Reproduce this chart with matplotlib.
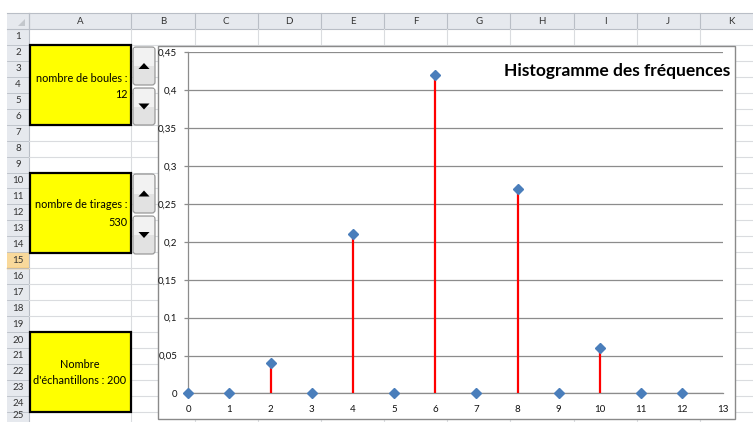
import matplotlib.pyplot as plt
from matplotlib.patches import Rectangle, FancyBboxPatch, Polygon

plt.rcParams['font.family'] = ['Lato', 'DejaVu Sans']

# tirage results: value drawn -> observed frequency
valeurs = list(range(13))
frequences = [0, 0, 0.04, 0, 0.21, 0, 0.42, 0, 0.27, 0, 0.06, 0, 0]
y_ticks = [0, 0.05, 0.1, 0.15, 0.2, 0.25, 0.3, 0.35, 0.4, 0.45]
y_labels = ['0', '0,05', '0,1', '0,15', '0,2', '0,25', '0,3', '0,35', '0,4', '0,45']
x_ticks = list(range(14))

colonnes = ['A', 'B', 'C', 'D', 'E', 'F', 'G', 'H', 'I', 'J', 'K']
lignes = list(range(1, 26))
nb_boules = 12
nb_tirages = 530
nb_echantillons = 200

W, H = 753, 422
fig = plt.figure(figsize=(W / 100, H / 100), dpi=100)
bg = fig.add_axes([0, 0, 1, 1])
bg.set_xlim(0, W)
bg.set_ylim(H, 0)
bg.axis('off')

# sheet geometry in pixels
head_top, head_bot = 13, 29
row_h = 15.95
col_x = [29, 131.5] + [131.5 + 63.15 * i for i in range(1, 10)] + [763]
left_x = 7
grid_c = '#dadcdf'
head_c = '#e6e9ee'
head_line = '#b9bec6'
txt_c = '#333333'

# column headers
bg.add_patch(Rectangle((left_x, head_top), W - left_x, head_bot - head_top,
                       facecolor=head_c, edgecolor='none'))
bg.plot([left_x, W], [head_top, head_top], color=head_line, lw=0.8)
bg.plot([left_x, W], [head_bot, head_bot], color=head_line, lw=0.8)
for i, c in enumerate(colonnes):
    x0, x1 = col_x[i], col_x[i + 1]
    bg.plot([x0, x0], [head_top, head_bot], color=head_line, lw=0.8)
    bg.text((x0 + x1) / 2, 21.5, c, ha='center', va='center',
            fontsize=7, color=txt_c)

# row headers
bg.add_patch(Rectangle((left_x, head_bot), col_x[0] - left_x, H - head_bot,
                       facecolor=head_c, edgecolor='none'))
bg.plot([col_x[0], col_x[0]], [head_top, H], color=head_line, lw=0.8)
bg.add_patch(Polygon([[25, 19], [25, 26], [18, 26]], closed=True,
                     facecolor='#c3c7cc', edgecolor='none'))
for r in lignes:
    y0 = head_bot + (r - 1) * row_h
    if r == 15:
        bg.add_patch(Rectangle((left_x, y0), col_x[0] - left_x, row_h,
                               facecolor='#f9d99b', edgecolor='none'))
        bg.plot([left_x, col_x[0]], [y0 + row_h, y0 + row_h], color='#f2b54a', lw=1)
    bg.plot([left_x, col_x[0]], [y0 + row_h, y0 + row_h], color=head_line, lw=0.6)
    bg.text(18, min(y0 + row_h / 2, H - 6), str(r), ha='center', va='center',
            fontsize=7, color=txt_c)
    bg.plot([col_x[0], W], [y0 + row_h, y0 + row_h], color=grid_c, lw=0.8)
for x in col_x[1:-1]:
    bg.plot([x, x], [head_bot, H], color=grid_c, lw=0.8)


# yellow input cells
def cellule(y_top, y_bot):
    bg.add_patch(Rectangle((col_x[0] + 1, y_top), col_x[1] - col_x[0] - 1,
                           y_bot - y_top, facecolor='#ffff00',
                           edgecolor='black', lw=1.6, zorder=3))


fs_cell = 7.8
cellule(45, 125)
bg.text(128, 79, 'nombre de boules :', ha='right', va='center', fontsize=fs_cell, zorder=4)
bg.text(128, 94, str(nb_boules), ha='right', va='center', fontsize=fs_cell, zorder=4)
cellule(173, 253)
bg.text(128, 205, 'nombre de tirages :', ha='right', va='center', fontsize=fs_cell, zorder=4)
bg.text(128, 222, str(nb_tirages), ha='right', va='center', fontsize=fs_cell, zorder=4)
cellule(332, 412)
bg.text(80, 365, 'Nombre', ha='center', va='center', fontsize=fs_cell, zorder=4)
bg.text(80, 381, "d'échantillons : %d" % nb_echantillons, ha='center',
        va='center', fontsize=fs_cell, zorder=4)


# spin buttons
def bouton(y_top, y_bot, haut):
    bg.add_patch(FancyBboxPatch((133, y_top + 1), 22, y_bot - y_top - 2,
                                boxstyle='round,pad=0,rounding_size=3',
                                facecolor='#e2e2e2', edgecolor='#9a9a9a',
                                lw=0.9, zorder=3))
    bg.add_patch(Rectangle((134, y_top + 2), 20, (y_bot - y_top) / 2 - 2,
                           facecolor='#f2f2f2', edgecolor='none', zorder=3))
    yc = (y_top + y_bot) / 2
    if haut:
        tri = [[138.5, yc + 3], [149.5, yc + 3], [144, yc - 3]]
    else:
        tri = [[138.5, yc - 3], [149.5, yc - 3], [144, yc + 3]]
    bg.add_patch(Polygon(tri, closed=True, facecolor='black',
                         edgecolor='none', zorder=4))


bouton(46, 86, True)
bouton(87, 126, False)
bouton(173, 214, True)
bouton(215, 255, False)

# chart area
bg.add_patch(Rectangle((158, 46), 577, 373, facecolor='white',
                       edgecolor='#8a8a8a', lw=1, zorder=5))

x0, x1 = 188.3, 723.3
y0, y1 = 393.4, 52.3
ax = fig.add_axes([x0 / W, 1 - y0 / H, (x1 - x0) / W, (y0 - y1) / H])
ax.set_zorder(6)
ax.patch.set_alpha(0)
ax.set_xlim(0, 13)
ax.set_ylim(0, 0.45)

ax.vlines(valeurs, 0, frequences, color='#ff0000', lw=1.6, zorder=3)
ax.plot(valeurs, frequences, linestyle='none', marker='D', ms=5.5,
        color='#4a7ebb', clip_on=False, zorder=4)

ax.set_yticks(y_ticks)
ax.set_yticklabels(y_labels)
ax.set_xticks(x_ticks)
ax.yaxis.grid(True, color='#8c8c8c', lw=0.9)
ax.set_axisbelow(True)
for s in ['top', 'right']:
    ax.spines[s].set_visible(False)
for s in ['left', 'bottom']:
    ax.spines[s].set_color('#8c8c8c')
    ax.spines[s].set_linewidth(0.9)
ax.tick_params(axis='y', length=3, width=0.9, color='#8c8c8c', pad=5,
               labelsize=7, labelcolor='#111111')
ax.tick_params(axis='x', length=0, pad=8, labelsize=7, labelcolor='#111111')

ax.text(730, 76, 'Histogramme des fréquences', transform=bg.transData,
        ha='right', va='baseline', fontsize=12.5, fontweight='bold', color='black')

fig.savefig('out.png', dpi=100)
